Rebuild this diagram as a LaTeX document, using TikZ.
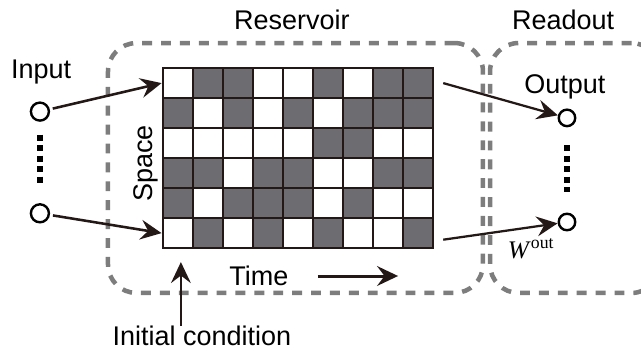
\documentclass[tikz,border=0pt]{standalone}
\usepackage{fontspec}
\setmainfont{Liberation Sans}
\newfontfamily\wfont{Liberation Serif}
\usepackage{tikz}
\usetikzlibrary{positioning}
\usetikzlibrary{calc}
\usetikzlibrary{arrows.meta}
\definecolor{ink}{RGB}{35,24,21}
\definecolor{cellgray}{RGB}{108,108,113}
\definecolor{boxgray}{RGB}{125,125,125}
\tikzset{cellW/.style={draw=ink, line width=0.09cm, minimum size=1cm, fill=white}}
\tikzset{cellG/.style={draw=ink, line width=0.09cm, minimum size=1cm, fill=cellgray}}
\tikzset{regionbox/.style={draw=boxgray, line width=0.15cm, dash pattern=on 0.33cm off 0.3cm, rounded corners=0.95cm, minimum height=8.33cm}}
\tikzset{lbl/.style={font=\fontsize{25.6}{30}\selectfont, inner sep=0pt, anchor=base}}
\tikzset{unit/.style={circle, draw=black, line width=0.08cm, minimum size=0.6cm, inner sep=0pt}}
\tikzset{arr/.style={-{Stealth[length=0.7cm, width=0.66cm, inset=0.25cm]}, line width=0.085cm, draw=ink}}
\tikzset{vdots/.style={line width=0.2cm, dash pattern=on 0.2cm off 0.15cm}}

\begin{document}
\begin{tikzpicture}

\useasboundingbox (0,0) rectangle (21.367,-11.667);

\node[regionbox, minimum width=12.5cm] (resbox) at (9.85, -5.6) {};
\node[regionbox, minimum width=5.67cm] (readbox) at (19.17, -5.6) {};

\node[lbl] (reservoir) at (9.73, -0.967) {Reservoir};
\node[lbl] (readout) at (18.77, -0.967) {Readout};

% row 1
\node[cellW] (a1) at (5.93, -2.77) {};
\node[cellG] (a2) at (6.93, -2.77) {};
\node[cellG] (a3) at (7.93, -2.77) {};
\node[cellW] (a4) at (8.93, -2.77) {};
\node[cellW] (a5) at (9.93, -2.77) {};
\node[cellG] (a6) at (10.93, -2.77) {};
\node[cellW] (a7) at (11.93, -2.77) {};
\node[cellG] (a8) at (12.93, -2.77) {};
\node[cellG] (a9) at (13.93, -2.77) {};

% row 2
\node[cellG] (b1) at (5.93, -3.77) {};
\node[cellW] (b2) at (6.93, -3.77) {};
\node[cellG] (b3) at (7.93, -3.77) {};
\node[cellW] (b4) at (8.93, -3.77) {};
\node[cellG] (b5) at (9.93, -3.77) {};
\node[cellW] (b6) at (10.93, -3.77) {};
\node[cellG] (b7) at (11.93, -3.77) {};
\node[cellG] (b8) at (12.93, -3.77) {};
\node[cellG] (b9) at (13.93, -3.77) {};

% row 3
\node[cellW] (c1) at (5.93, -4.77) {};
\node[cellW] (c2) at (6.93, -4.77) {};
\node[cellW] (c3) at (7.93, -4.77) {};
\node[cellW] (c4) at (8.93, -4.77) {};
\node[cellW] (c5) at (9.93, -4.77) {};
\node[cellG] (c6) at (10.93, -4.77) {};
\node[cellG] (c7) at (11.93, -4.77) {};
\node[cellW] (c8) at (12.93, -4.77) {};
\node[cellW] (c9) at (13.93, -4.77) {};

% row 4
\node[cellG] (d1) at (5.93, -5.77) {};
\node[cellG] (d2) at (6.93, -5.77) {};
\node[cellW] (d3) at (7.93, -5.77) {};
\node[cellG] (d4) at (8.93, -5.77) {};
\node[cellG] (d5) at (9.93, -5.77) {};
\node[cellW] (d6) at (10.93, -5.77) {};
\node[cellW] (d7) at (11.93, -5.77) {};
\node[cellG] (d8) at (12.93, -5.77) {};
\node[cellG] (d9) at (13.93, -5.77) {};

% row 5
\node[cellG] (e1) at (5.93, -6.77) {};
\node[cellW] (e2) at (6.93, -6.77) {};
\node[cellG] (e3) at (7.93, -6.77) {};
\node[cellG] (e4) at (8.93, -6.77) {};
\node[cellG] (e5) at (9.93, -6.77) {};
\node[cellW] (e6) at (10.93, -6.77) {};
\node[cellG] (e7) at (11.93, -6.77) {};
\node[cellW] (e8) at (12.93, -6.77) {};
\node[cellW] (e9) at (13.93, -6.77) {};

% row 6
\node[cellW] (f1) at (5.93, -7.77) {};
\node[cellG] (f2) at (6.93, -7.77) {};
\node[cellW] (f3) at (7.93, -7.77) {};
\node[cellG] (f4) at (8.93, -7.77) {};
\node[cellW] (f5) at (9.93, -7.77) {};
\node[cellG] (f6) at (10.93, -7.77) {};
\node[cellW] (f7) at (11.93, -7.77) {};
\node[cellW] (f8) at (12.93, -7.77) {};
\node[cellG] (f9) at (13.93, -7.77) {};

\node[lbl, rotate=90] (space) at (5.1, -5.45) {Space};
\node[lbl] (time) at (8.63, -9.53) {Time};
\node[lbl] (init) at (6.73, -11.53) {Initial condition};

% input side
\node[lbl] (input) at (1.37, -2.63) {Input};
\node[unit] (in1) at (1.33, -3.72) {};
\node[unit] (in2) at (1.33, -7.11) {};
\draw[vdots] ($(in1.south)+(0,-0.43)$) -- ($(in2.north)+(0,0.67)$);

\draw[arr, shorten <=0.1cm] (in1) -- (a1.west);
\draw[arr, shorten <=0.1cm] (in2) -- (f1.west);

% readout side
\node[lbl] (output) at (18.83, -3.1) {Output};
\node[unit, minimum size=0.55cm] (out1) at (18.9, -3.93) {};
\node[unit, minimum size=0.55cm] (out2) at (18.9, -7.4) {};
\draw[vdots] ($(out1.south)+(0,-0.6)$) -- ($(out2.north)+(0,0.67)$);

\draw[arr, line width=0.075cm] ($(a9.east)+(0.3,0)$) -- (out1);
\draw[arr, line width=0.075cm] ($(f9.east)+(0.3,-0.22)$) -- (out2);

\node[anchor=base, inner sep=0pt, font=\fontsize{24}{27}\selectfont\wfont] (wout) at (17.7, -8.6) {\textit{W}\textsuperscript{out}};

% time and initial condition
\coordinate (tstart) at (10.6, -9.2);
\coordinate (tend) at (13.27, -9.2);
\draw[arr, line width=0.1cm] (tstart) -- (tend);

\coordinate (icond) at ($(f1.south)+(0.1,-0.42)$);
\draw[arr, line width=0.075cm] (icond |- init.north) -- (icond);

\end{tikzpicture}
\end{document}
